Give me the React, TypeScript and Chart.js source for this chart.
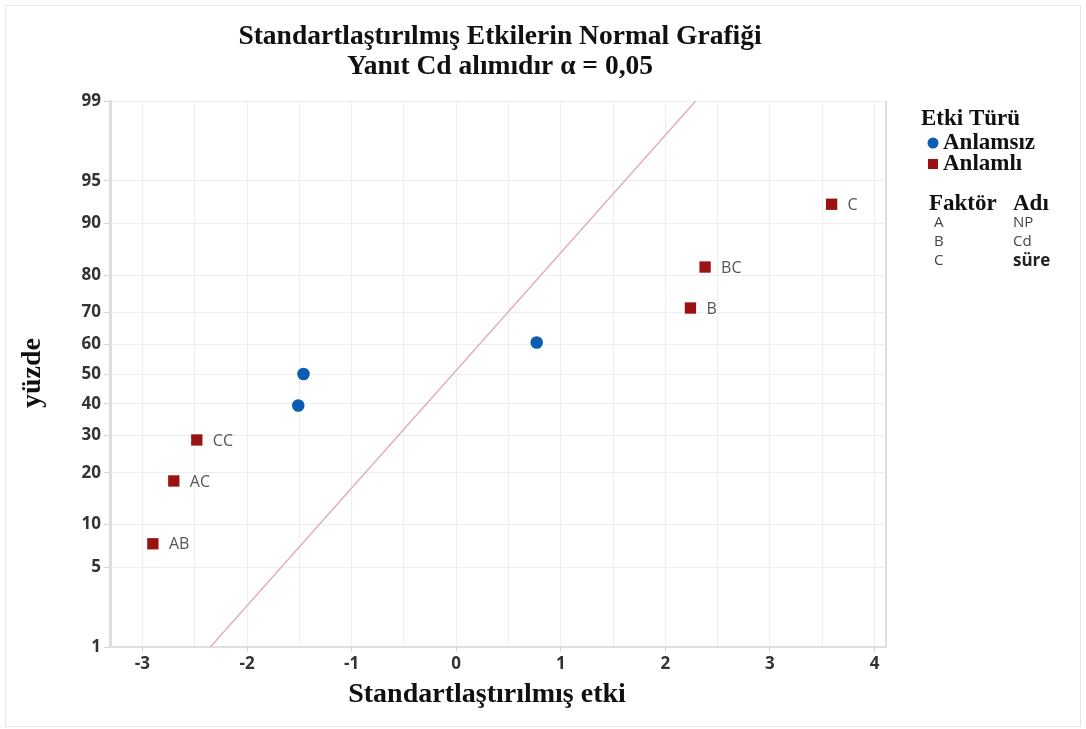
import React, { useEffect, useRef } from "react";
import { Chart, registerables } from "chart.js";

Chart.register(...registerables);

// ---- data ----
const effectNames = ["AB", "AC", "CC", "", "", "", "B", "BC", "C"];
const effectValues = [-2.9, -2.7, -2.48, -1.51, -1.46, 0.77, 2.24, 2.38, 3.59];
const effectPercents = [7.4, 18.1, 28.7, 39.4, 50, 60.6, 71.3, 81.9, 92.6];
const effectSignificant = [true, true, true, false, false, false, true, true, true];
const lineX = [-2.35, 2.29];
const lineP = [1, 99];
const yTickLabels = [1, 5, 10, 20, 30, 40, 50, 60, 70, 80, 90, 95, 99];
const xTickValues = [-3, -2.5, -2, -1.5, -1, -0.5, 0, 0.5, 1, 1.5, 2, 2.5, 3, 3.5, 4];
const factorLetters = ["A", "B", "C"];
const factorNames = ["NP", "Cd", "süre"];

// inverse normal CDF (Acklam) – probability-scale transform
function probit(pct: number): number {
  const p = pct / 100;
  const a = [-3.969683028665376e1, 2.209460984245205e2, -2.759285104469687e2, 1.38357751867269e2, -3.066479806614716e1, 2.506628277459239];
  const b = [-5.447609879822406e1, 1.615858368580409e2, -1.556989798598866e2, 6.680131188771972e1, -1.328068155288572e1];
  const c = [-7.784894002430293e-3, -3.223964580411365e-1, -2.400758277161838, -2.549732539343734, 4.374664141464968, 2.938163982698783];
  const d = [7.784695709041462e-3, 3.224671290700398e-1, 2.445134137142996, 3.754408661907416];
  const pl = 0.02425;
  let q: number, r: number;
  if (p < pl) {
    q = Math.sqrt(-2 * Math.log(p));
    return (((((c[0] * q + c[1]) * q + c[2]) * q + c[3]) * q + c[4]) * q + c[5]) / ((((d[0] * q + d[1]) * q + d[2]) * q + d[3]) * q + 1);
  } else if (p <= 1 - pl) {
    q = p - 0.5;
    r = q * q;
    return ((((((a[0] * r + a[1]) * r + a[2]) * r + a[3]) * r + a[4]) * r + a[5]) * q) / (((((b[0] * r + b[1]) * r + b[2]) * r + b[3]) * r + b[4]) * r + 1);
  } else {
    q = Math.sqrt(-2 * Math.log(1 - p));
    return -(((((c[0] * q + c[1]) * q + c[2]) * q + c[3]) * q + c[4]) * q + c[5]) / ((((d[0] * q + d[1]) * q + d[2]) * q + d[3]) * q + 1);
  }
}

const BLUE = "#0b5cb3";
const RED = "#9a1212";
const SERIF = "'Liberation Serif', 'Times New Roman', serif";
const SANS = "'Open Sans', 'Noto Sans', sans-serif";

const textPlugin = {
  id: "texts",
  afterDraw(chart: any) {
    const ctx = chart.ctx as CanvasRenderingContext2D;
    const area = chart.chartArea;
    ctx.save();
    // figure frame
    ctx.strokeStyle = "#e6e6e6";
    ctx.lineWidth = 1;
    ctx.strokeRect(5.5, 5.5, 1075, 721);
    // right border of plot
    ctx.strokeStyle = "#dedede";
    ctx.lineWidth = 2;
    ctx.beginPath();
    ctx.moveTo(area.right, area.top);
    ctx.lineTo(area.right, area.bottom);
    ctx.stroke();

    // titles
    ctx.fillStyle = "#111";
    ctx.textAlign = "center";
    ctx.textBaseline = "middle";
    ctx.font = `bold 27.5px ${SERIF}`;
    ctx.fillText("Standartlaştırılmış Etkilerin Normal Grafiği", 500, 37);
    ctx.fillText("Yanıt Cd alımıdır α = 0,05", 500, 67);
    // axis titles
    ctx.font = `bold 28px ${SERIF}`;
    ctx.fillText("Standartlaştırılmış etki", 487, 695);
    ctx.save();
    ctx.translate(33, 373);
    ctx.rotate(-Math.PI / 2);
    ctx.fillText("yüzde", 0, 0);
    ctx.restore();

    // point labels
    ctx.font = `16px ${SANS}`;
    ctx.fillStyle = "#555";
    ctx.textAlign = "left";
    const xs = chart.scales.x;
    const ys = chart.scales.y;
    effectNames.forEach((n, i) => {
      if (!n) return;
      const px = xs.getPixelForValue(effectValues[i]);
      const py = ys.getPixelForValue(probit(effectPercents[i]));
      ctx.fillText(n, px + 16, py + 1);
    });

    // legend
    ctx.fillStyle = "#111";
    ctx.font = `bold 23px ${SERIF}`;
    ctx.textAlign = "left";
    ctx.fillText("Etki Türü", 921, 119);
    ctx.fillText("Anlamsız", 943, 143);
    ctx.fillText("Anlamlı", 943, 164);
    ctx.fillStyle = BLUE;
    ctx.beginPath();
    ctx.arc(933, 143, 5.5, 0, Math.PI * 2);
    ctx.fill();
    ctx.fillStyle = RED;
    ctx.fillRect(928, 159, 10, 10);
    ctx.fillStyle = "#111";
    ctx.fillText("Faktör", 929, 204);
    ctx.fillText("Adı", 1013, 204);
    ctx.font = `15px ${SANS}`;
    ctx.fillStyle = "#444";
    factorLetters.forEach((l, i) => ctx.fillText(l, 934, 223 + i * 19));
    factorNames.forEach((l, i) => {
      ctx.font = i === 2 ? `bold 17px ${SANS}` : `15px ${SANS}`;
      ctx.fillStyle = i === 2 ? "#222" : "#444";
      ctx.fillText(l, 1013, 223 + i * 19);
    });
    ctx.restore();
  },
};

export default function App() {
  const ref = useRef<HTMLCanvasElement>(null);
  useEffect(() => {
    if (!ref.current) return;
    const pts = effectValues.map((v, i) => ({ x: v, y: probit(effectPercents[i]), s: effectSignificant[i] }));
    const insig = pts.filter((p) => !p.s).map(({ x, y }) => ({ x, y }));
    const sig = pts.filter((p) => p.s).map(({ x, y }) => ({ x, y }));
    const line = lineX.map((x, i) => ({ x, y: probit(lineP[i]) }));
    const zTicks = yTickLabels.map((p) => probit(p));
    const chart = new Chart(ref.current, {
      type: "scatter",
      data: {
        datasets: [
          {
            label: "Anlamsız",
            data: insig,
            pointStyle: "circle",
            pointRadius: 6.3,
            backgroundColor: BLUE,
            borderColor: BLUE,
            borderWidth: 0,
          },
          {
            label: "Anlamlı",
            data: sig,
            pointStyle: "rect",
            pointRadius: 8,
            backgroundColor: RED,
            borderColor: RED,
            borderWidth: 0,
          },
          {
            type: "line",
            label: "ref",
            data: line,
            borderColor: "#e0a9a9",
            borderWidth: 1.3,
            pointRadius: 0,
            showLine: true,
            fill: false,
          } as any,
        ],
      },
      options: {
        responsive: false,
        animation: false,
        layout: { padding: { left: 0, top: 101, right: 200, bottom: 0 } },
        plugins: { legend: { display: false }, tooltip: { enabled: false }, title: { display: false } },
        scales: {
          x: {
            type: "linear",
            min: -3.31,
            max: 4.11,
            afterBuildTicks: (s: any) => {
              s.ticks = xTickValues.map((v) => ({ value: v }));
            },
            afterFit: (s: any) => {
              s.height = 82;
            },
            grid: {
              color: "#eeeeee",
              lineWidth: 1,
              tickLength: 5,
              tickColor: (c: any) => (Number.isInteger(c.tick?.value) ? "#d6d6d6" : "rgba(0,0,0,0)"),
            },
            border: { color: "#dedede", width: 2 },
            ticks: {
              autoSkip: false,
              maxRotation: 0,
              color: "#333",
              font: { family: SANS, size: 17, weight: "bold" },
              padding: 2,
              callback: (v: any) => (Number.isInteger(Number(v)) ? String(v) : ""),
            },
          },
          y: {
            type: "linear",
            min: probit(1),
            max: probit(99),
            afterBuildTicks: (s: any) => {
              s.ticks = zTicks.map((v) => ({ value: v }));
            },
            afterFit: (s: any) => {
              s.width = 110;
            },
            grid: { color: "#eeeeee", lineWidth: 1, tickLength: 6, tickColor: "#d6d6d6" },
            border: { color: "#dedede", width: 3 },
            ticks: {
              autoSkip: false,
              color: "#333",
              font: { family: SANS, size: 17, weight: "bold" },
              padding: 3,
              callback: (_v: any, i: number) => String(yTickLabels[i]),
            },
          },
        },
      },
      plugins: [textPlugin],
    });
    return () => chart.destroy();
  }, []);
  return (
    <div style={{ position: "absolute", left: 0, top: 0, width: 1086, height: 729, background: "#fff" }}>
      <canvas ref={ref} width={1086} height={729} />
    </div>
  );
}
